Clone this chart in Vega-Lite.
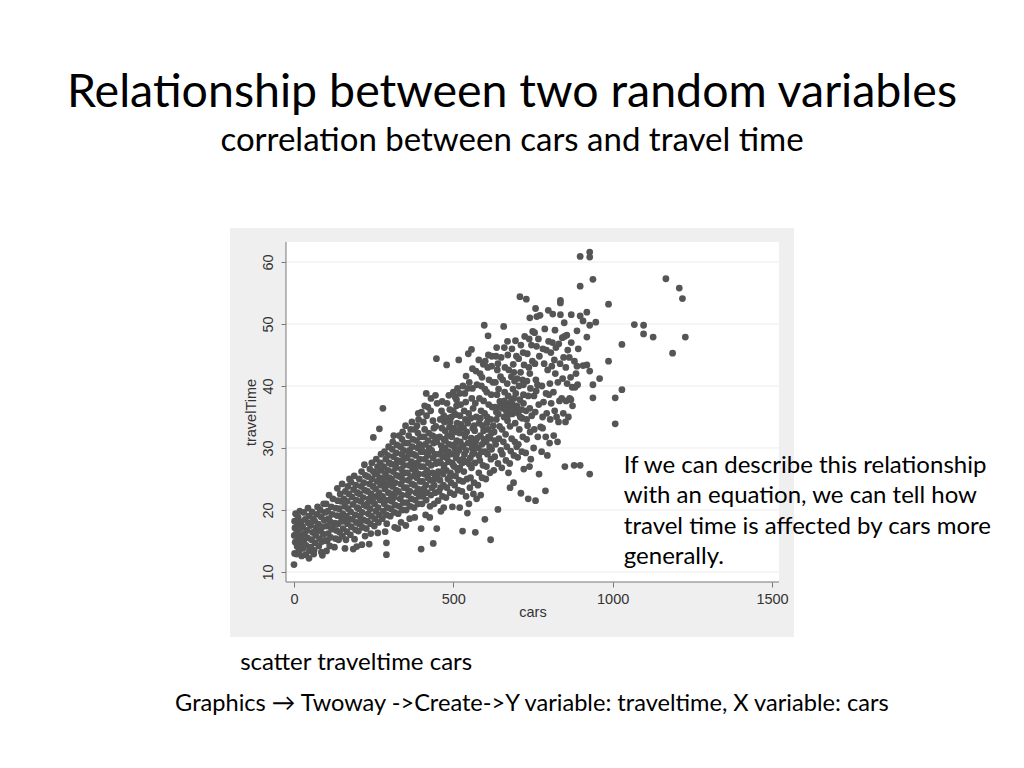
{
  "$schema": "https://vega.github.io/schema/vega-lite/v6.json",
  "width": 564,
  "height": 409,
  "autosize": {"type": "none"},
  "padding": {"left": 230, "top": 228, "right": 230, "bottom": 131},
  "background": "white",
  "title": {
    "text": "Relationship between two random variables",
    "subtitle": "correlation between cars and travel time",
    "anchor": "middle",
    "frame": "group",
    "offset": 70,
    "font": "Lato",
    "fontSize": 46.5,
    "fontWeight": "normal",
    "color": "black",
    "subtitleFont": "Lato",
    "subtitleFontSize": 33,
    "subtitleColor": "black",
    "subtitlePadding": 9
  },
  "layer": [
    {
      "data": {"values": [{}]},
      "mark": {"type": "rect", "color": "white"},
      "encoding": {
        "x": {"datum": -25.1, "type": "quantitative", "title": "cars", "scale": {"domain": [-200.8, 1569], "nice": false, "zero": false}, "axis": {"values": [0, 500, 1000, 1500], "format": "d"}},
        "x2": {"datum": 1521.9},
        "y": {"datum": 63.23, "type": "quantitative", "title": "travelTime", "scale": {"domain": [-0.484, 65.484], "nice": false, "zero": false}, "axis": {"values": [10, 20, 30, 40, 50, 60], "format": "d"}},
        "y2": {"datum": 8.387}
      }
    },
    {
      "data": {"values": [{"grid": 10}, {"grid": 20}, {"grid": 30}, {"grid": 40}, {"grid": 50}, {"grid": 60}]},
      "mark": {"type": "rule", "color": "#ececec", "strokeWidth": 1},
      "encoding": {
        "x": {"datum": -25.1, "type": "quantitative", "title": "cars", "scale": {"domain": [-200.8, 1569], "nice": false, "zero": false}, "axis": {"values": [0, 500, 1000, 1500], "format": "d"}},
        "x2": {"datum": 1521.9},
        "y": {"field": "grid", "type": "quantitative", "title": "travelTime", "scale": {"domain": [-0.484, 65.484], "nice": false, "zero": false}, "axis": {"values": [10, 20, 30, 40, 50, 60], "format": "d"}}
      }
    },
    {
      "data": {"values": [{}]},
      "mark": {"type": "rule", "color": "#777777", "strokeWidth": 1},
      "encoding": {
        "x": {"datum": -25.1, "type": "quantitative", "title": "cars", "scale": {"domain": [-200.8, 1569], "nice": false, "zero": false}, "axis": {"values": [0, 500, 1000, 1500], "format": "d"}},
        "x2": {"datum": 1521.9},
        "y": {"datum": 8.387, "type": "quantitative", "title": "travelTime", "scale": {"domain": [-0.484, 65.484], "nice": false, "zero": false}, "axis": {"values": [10, 20, 30, 40, 50, 60], "format": "d"}}
      }
    },
    {
      "data": {"values": [{}]},
      "mark": {"type": "rule", "color": "#777777", "strokeWidth": 1},
      "encoding": {
        "x": {"datum": -25.1, "type": "quantitative", "title": "cars", "scale": {"domain": [-200.8, 1569], "nice": false, "zero": false}, "axis": {"values": [0, 500, 1000, 1500], "format": "d"}},
        "y": {"datum": 63.23, "type": "quantitative", "title": "travelTime", "scale": {"domain": [-0.484, 65.484], "nice": false, "zero": false}, "axis": {"values": [10, 20, 30, 40, 50, 60], "format": "d"}},
        "y2": {"datum": 8.387}
      }
    },
    {
      "data": {"values": [
        {"cars":0,"travelTime":11.2},
        {"cars":2,"travelTime":13.0},{"cars":4,"travelTime":14.8},{"cars":1,"travelTime":15.9},{"cars":3,"travelTime":17.1},{"cars":2,"travelTime":18.2},{"cars":5,"travelTime":19.4},{"cars":8,"travelTime":12.9},{"cars":10,"travelTime":14.1},{"cars":12,"travelTime":15.3},{"cars":9,"travelTime":16.4},{"cars":11,"travelTime":17.6},{"cars":13,"travelTime":18.8},{"cars":18,"travelTime":19.8},{"cars":16,"travelTime":13.4},{"cars":20,"travelTime":14.6},{"cars":22,"travelTime":15.8},{"cars":19,"travelTime":17.0},{"cars":23,"travelTime":18.1},{"cars":15,"travelTime":16.1},{"cars":24,"travelTime":12.6},
        {"cars":28,"travelTime":13.8},{"cars":30,"travelTime":15.0},{"cars":33,"travelTime":16.2},{"cars":27,"travelTime":17.3},{"cars":35,"travelTime":18.5},{"cars":31,"travelTime":19.6},{"cars":38,"travelTime":14.3},{"cars":42,"travelTime":15.5},{"cars":40,"travelTime":16.7},{"cars":45,"travelTime":17.9},{"cars":47,"travelTime":19.0},{"cars":37,"travelTime":12.8},{"cars":48,"travelTime":13.4},{"cars":44,"travelTime":20.3},{"cars":47,"travelTime":12.2},
        {"cars":53,"travelTime":14.0},{"cars":55,"travelTime":15.2},{"cars":58,"travelTime":16.4},{"cars":52,"travelTime":17.5},{"cars":60,"travelTime":18.6},{"cars":57,"travelTime":19.7},{"cars":63,"travelTime":13.5},{"cars":66,"travelTime":14.7},{"cars":68,"travelTime":15.9},{"cars":70,"travelTime":17.1},{"cars":65,"travelTime":18.2},{"cars":72,"travelTime":19.3},{"cars":74,"travelTime":20.5},{"cars":62,"travelTime":12.9},{"cars":69,"travelTime":16.5},
        {"cars":78,"travelTime":14.2},{"cars":80,"travelTime":15.4},{"cars":83,"travelTime":16.6},{"cars":77,"travelTime":17.7},{"cars":85,"travelTime":18.9},{"cars":82,"travelTime":20.0},{"cars":88,"travelTime":14.9},{"cars":92,"travelTime":16.1},{"cars":90,"travelTime":17.3},{"cars":95,"travelTime":18.4},{"cars":97,"travelTime":19.6},{"cars":93,"travelTime":21.0},{"cars":86,"travelTime":13.2},{"cars":98,"travelTime":15.1},{"cars":89,"travelTime":12.7},
        {"cars":102,"travelTime":13.4},{"cars":104,"travelTime":15.0},{"cars":107,"travelTime":16.2},{"cars":103,"travelTime":17.4},{"cars":109,"travelTime":18.6},{"cars":106,"travelTime":19.8},{"cars":101,"travelTime":21.0},{"cars":112,"travelTime":14.2},{"cars":115,"travelTime":15.6},{"cars":118,"travelTime":16.9},{"cars":114,"travelTime":18.1},{"cars":120,"travelTime":19.3},{"cars":117,"travelTime":20.5},{"cars":122,"travelTime":21.8},{"cars":124,"travelTime":17.6},{"cars":110,"travelTime":22.4},
        {"cars":127,"travelTime":14.0},{"cars":130,"travelTime":15.4},{"cars":133,"travelTime":16.7},{"cars":128,"travelTime":17.9},{"cars":135,"travelTime":19.1},{"cars":131,"travelTime":20.3},{"cars":137,"travelTime":21.5},{"cars":140,"travelTime":15.2},{"cars":143,"travelTime":16.4},{"cars":139,"travelTime":17.8},{"cars":146,"travelTime":19.0},{"cars":142,"travelTime":20.2},{"cars":148,"travelTime":21.4},{"cars":145,"travelTime":22.6},{"cars":136,"travelTime":23.5},{"cars":149,"travelTime":18.2},
        {"cars":152,"travelTime":15.8},{"cars":154,"travelTime":17.0},{"cars":157,"travelTime":18.2},{"cars":153,"travelTime":19.4},{"cars":159,"travelTime":20.6},{"cars":156,"travelTime":21.8},{"cars":161,"travelTime":23.0},{"cars":151,"travelTime":24.2},{"cars":163,"travelTime":15.2},{"cars":166,"travelTime":16.5},{"cars":168,"travelTime":17.8},{"cars":164,"travelTime":19.0},{"cars":170,"travelTime":20.2},{"cars":167,"travelTime":21.4},{"cars":172,"travelTime":22.6},{"cars":169,"travelTime":23.8},{"cars":174,"travelTime":25.0},{"cars":160,"travelTime":13.8},{"cars":171,"travelTime":18.6},
        {"cars":177,"travelTime":16.0},{"cars":180,"travelTime":17.3},{"cars":183,"travelTime":18.5},{"cars":178,"travelTime":19.7},{"cars":185,"travelTime":20.9},{"cars":182,"travelTime":22.1},{"cars":187,"travelTime":23.3},{"cars":179,"travelTime":24.5},{"cars":189,"travelTime":25.5},{"cars":190,"travelTime":15.3},{"cars":193,"travelTime":16.8},{"cars":196,"travelTime":18.0},{"cars":192,"travelTime":19.2},{"cars":198,"travelTime":20.4},{"cars":195,"travelTime":21.6},{"cars":199,"travelTime":22.8},{"cars":194,"travelTime":24.0},{"cars":186,"travelTime":13.7},{"cars":197,"travelTime":14.1},
        {"cars":202,"travelTime":16.6},{"cars":204,"travelTime":17.8},{"cars":207,"travelTime":19.0},{"cars":203,"travelTime":20.2},{"cars":209,"travelTime":21.4},{"cars":206,"travelTime":22.6},{"cars":211,"travelTime":23.8},{"cars":205,"travelTime":25.0},{"cars":212,"travelTime":26.2},{"cars":215,"travelTime":17.2},{"cars":218,"travelTime":18.4},{"cars":214,"travelTime":19.6},{"cars":220,"travelTime":20.8},{"cars":217,"travelTime":22.0},{"cars":222,"travelTime":23.2},{"cars":219,"travelTime":24.4},{"cars":224,"travelTime":25.6},{"cars":221,"travelTime":27.3},{"cars":213,"travelTime":14.4},{"cars":223,"travelTime":15.8},
        {"cars":227,"travelTime":17.0},{"cars":230,"travelTime":18.2},{"cars":233,"travelTime":19.4},{"cars":228,"travelTime":20.6},{"cars":235,"travelTime":21.8},{"cars":231,"travelTime":23.0},{"cars":237,"travelTime":24.2},{"cars":232,"travelTime":25.4},{"cars":238,"travelTime":26.6},{"cars":240,"travelTime":17.8},{"cars":243,"travelTime":19.0},{"cars":239,"travelTime":20.2},{"cars":246,"travelTime":21.4},{"cars":242,"travelTime":22.6},{"cars":248,"travelTime":23.8},{"cars":245,"travelTime":25.0},{"cars":249,"travelTime":26.2},{"cars":244,"travelTime":27.6},{"cars":236,"travelTime":14.5},{"cars":241,"travelTime":16.2},
        {"cars":252,"travelTime":17.4},{"cars":254,"travelTime":18.6},{"cars":257,"travelTime":19.8},{"cars":253,"travelTime":21.0},{"cars":259,"travelTime":22.2},{"cars":256,"travelTime":23.4},{"cars":261,"travelTime":24.6},{"cars":255,"travelTime":25.8},{"cars":262,"travelTime":27.0},{"cars":258,"travelTime":28.2},{"cars":265,"travelTime":18.0},{"cars":268,"travelTime":19.2},{"cars":264,"travelTime":20.4},{"cars":270,"travelTime":21.6},{"cars":267,"travelTime":22.8},{"cars":272,"travelTime":24.0},{"cars":269,"travelTime":25.2},{"cars":274,"travelTime":26.4},{"cars":271,"travelTime":27.6},{"cars":273,"travelTime":29.0},{"cars":268,"travelTime":33.1},{"cars":279,"travelTime":36.4},{"cars":249,"travelTime":31.7},{"cars":263,"travelTime":16.3},
        {"cars":277,"travelTime":18.6},{"cars":280,"travelTime":19.8},{"cars":283,"travelTime":21.0},{"cars":278,"travelTime":22.2},{"cars":285,"travelTime":23.4},{"cars":281,"travelTime":24.6},{"cars":287,"travelTime":25.8},{"cars":282,"travelTime":27.0},{"cars":288,"travelTime":28.2},{"cars":284,"travelTime":29.4},{"cars":290,"travelTime":19.2},{"cars":293,"travelTime":20.4},{"cars":289,"travelTime":21.6},{"cars":296,"travelTime":22.8},{"cars":292,"travelTime":24.0},{"cars":298,"travelTime":25.2},{"cars":295,"travelTime":26.4},{"cars":299,"travelTime":27.6},{"cars":294,"travelTime":28.8},{"cars":297,"travelTime":30.2},{"cars":290,"travelTime":12.8},{"cars":290,"travelTime":14.7},{"cars":286,"travelTime":16.5},{"cars":291,"travelTime":17.8},
        {"cars":302,"travelTime":19.0},{"cars":304,"travelTime":20.2},{"cars":307,"travelTime":21.4},{"cars":303,"travelTime":22.6},{"cars":309,"travelTime":23.8},{"cars":306,"travelTime":25.0},{"cars":311,"travelTime":26.2},{"cars":305,"travelTime":27.4},{"cars":312,"travelTime":28.6},{"cars":308,"travelTime":29.8},{"cars":310,"travelTime":31.0},{"cars":315,"travelTime":19.6},{"cars":318,"travelTime":20.8},{"cars":314,"travelTime":22.0},{"cars":320,"travelTime":23.2},{"cars":317,"travelTime":24.4},{"cars":322,"travelTime":25.6},{"cars":319,"travelTime":26.8},{"cars":324,"travelTime":28.0},{"cars":321,"travelTime":29.2},{"cars":323,"travelTime":30.5},{"cars":316,"travelTime":17.2},{"cars":313,"travelTime":32.0},
        {"cars":327,"travelTime":19.4},{"cars":330,"travelTime":20.6},{"cars":333,"travelTime":21.8},{"cars":328,"travelTime":23.0},{"cars":335,"travelTime":24.2},{"cars":331,"travelTime":25.4},{"cars":337,"travelTime":26.6},{"cars":332,"travelTime":27.8},{"cars":338,"travelTime":29.0},{"cars":334,"travelTime":30.2},{"cars":339,"travelTime":31.4},{"cars":340,"travelTime":20.0},{"cars":343,"travelTime":21.2},{"cars":339,"travelTime":22.4},{"cars":346,"travelTime":23.6},{"cars":342,"travelTime":24.8},{"cars":348,"travelTime":26.0},{"cars":345,"travelTime":27.2},{"cars":349,"travelTime":28.4},{"cars":344,"travelTime":29.6},{"cars":347,"travelTime":30.8},{"cars":341,"travelTime":32.6},{"cars":336,"travelTime":18.0},{"cars":326,"travelTime":17.0},
        {"cars":352,"travelTime":20.0},{"cars":354,"travelTime":21.2},{"cars":357,"travelTime":22.4},{"cars":353,"travelTime":23.6},{"cars":359,"travelTime":24.8},{"cars":356,"travelTime":26.0},{"cars":361,"travelTime":27.2},{"cars":355,"travelTime":28.4},{"cars":362,"travelTime":29.6},{"cars":358,"travelTime":30.8},{"cars":360,"travelTime":32.0},{"cars":365,"travelTime":20.6},{"cars":368,"travelTime":21.8},{"cars":364,"travelTime":23.0},{"cars":370,"travelTime":24.2},{"cars":367,"travelTime":25.4},{"cars":372,"travelTime":26.6},{"cars":369,"travelTime":27.8},{"cars":374,"travelTime":29.0},{"cars":371,"travelTime":30.2},{"cars":373,"travelTime":31.4},{"cars":366,"travelTime":33.0},{"cars":363,"travelTime":18.6},{"cars":351,"travelTime":17.5},
        {"cars":377,"travelTime":20.4},{"cars":380,"travelTime":21.6},{"cars":383,"travelTime":22.8},{"cars":378,"travelTime":24.0},{"cars":385,"travelTime":25.2},{"cars":381,"travelTime":26.4},{"cars":387,"travelTime":27.6},{"cars":382,"travelTime":28.8},{"cars":388,"travelTime":30.0},{"cars":384,"travelTime":31.2},{"cars":389,"travelTime":32.4},{"cars":386,"travelTime":33.6},{"cars":390,"travelTime":21.0},{"cars":393,"travelTime":22.2},{"cars":389,"travelTime":23.4},{"cars":396,"travelTime":24.6},{"cars":392,"travelTime":25.8},{"cars":398,"travelTime":27.0},{"cars":395,"travelTime":28.2},{"cars":399,"travelTime":29.4},{"cars":394,"travelTime":30.6},{"cars":397,"travelTime":31.8},{"cars":391,"travelTime":34.6},{"cars":399,"travelTime":17.0},{"cars":399,"travelTime":13.7},{"cars":379,"travelTime":18.8},
        {"cars":402,"travelTime":21.0},{"cars":404,"travelTime":22.2},{"cars":407,"travelTime":23.4},{"cars":403,"travelTime":24.6},{"cars":409,"travelTime":25.8},{"cars":406,"travelTime":27.0},{"cars":411,"travelTime":28.2},{"cars":405,"travelTime":29.4},{"cars":412,"travelTime":30.6},{"cars":408,"travelTime":31.8},{"cars":410,"travelTime":33.0},{"cars":406,"travelTime":34.2},{"cars":415,"travelTime":21.6},{"cars":418,"travelTime":22.8},{"cars":414,"travelTime":24.0},{"cars":420,"travelTime":25.2},{"cars":417,"travelTime":26.4},{"cars":422,"travelTime":27.6},{"cars":419,"travelTime":28.8},{"cars":424,"travelTime":30.0},{"cars":421,"travelTime":31.2},{"cars":423,"travelTime":32.4},{"cars":416,"travelTime":35.2},{"cars":413,"travelTime":19.2},{"cars":420,"travelTime":36.6},
        {"cars":427,"travelTime":20.6},{"cars":430,"travelTime":22.4},{"cars":433,"travelTime":23.6},{"cars":428,"travelTime":24.8},{"cars":435,"travelTime":26.0},{"cars":431,"travelTime":27.2},{"cars":437,"travelTime":28.4},{"cars":432,"travelTime":29.6},{"cars":438,"travelTime":30.8},{"cars":434,"travelTime":32.0},{"cars":439,"travelTime":33.2},{"cars":436,"travelTime":34.4},{"cars":429,"travelTime":36.0},{"cars":440,"travelTime":21.0},{"cars":443,"travelTime":22.8},{"cars":441,"travelTime":25.0},{"cars":446,"travelTime":27.5},{"cars":442,"travelTime":29.0},{"cars":448,"travelTime":31.0},{"cars":445,"travelTime":33.5},{"cars":449,"travelTime":37.2},{"cars":444,"travelTime":38.5},{"cars":437,"travelTime":14.6},{"cars":448,"travelTime":17.0},{"cars":426,"travelTime":18.8},{"cars":447,"travelTime":44.4},
        {"cars":452,"travelTime":21.5},{"cars":455,"travelTime":23.0},{"cars":458,"travelTime":24.8},{"cars":453,"travelTime":26.2},{"cars":460,"travelTime":27.6},{"cars":456,"travelTime":29.0},{"cars":462,"travelTime":30.4},{"cars":457,"travelTime":31.8},{"cars":464,"travelTime":33.2},{"cars":459,"travelTime":34.6},{"cars":463,"travelTime":36.0},{"cars":466,"travelTime":22.2},{"cars":469,"travelTime":24.0},{"cars":468,"travelTime":25.8},{"cars":471,"travelTime":27.2},{"cars":467,"travelTime":28.6},{"cars":473,"travelTime":30.0},{"cars":470,"travelTime":31.4},{"cars":474,"travelTime":32.8},{"cars":472,"travelTime":34.2},{"cars":465,"travelTime":37.5},{"cars":461,"travelTime":19.8},{"cars":470,"travelTime":20.4},
        {"cars":477,"travelTime":22.0},{"cars":480,"travelTime":23.6},{"cars":483,"travelTime":25.0},{"cars":478,"travelTime":26.4},{"cars":485,"travelTime":27.8},{"cars":481,"travelTime":29.2},{"cars":487,"travelTime":30.6},{"cars":482,"travelTime":32.0},{"cars":488,"travelTime":33.4},{"cars":484,"travelTime":34.8},{"cars":489,"travelTime":36.2},{"cars":490,"travelTime":22.8},{"cars":493,"travelTime":24.4},{"cars":491,"travelTime":26.0},{"cars":496,"travelTime":27.6},{"cars":492,"travelTime":29.0},{"cars":498,"travelTime":30.4},{"cars":495,"travelTime":31.8},{"cars":499,"travelTime":33.2},{"cars":494,"travelTime":35.0},{"cars":479,"travelTime":43.4},{"cars":486,"travelTime":38.5},{"cars":497,"travelTime":20.5},{"cars":500,"travelTime":39.0},
        {"cars":502,"travelTime":22.5},{"cars":504,"travelTime":24.0},{"cars":507,"travelTime":25.5},{"cars":503,"travelTime":27.0},{"cars":509,"travelTime":28.4},{"cars":506,"travelTime":29.8},{"cars":511,"travelTime":31.2},{"cars":505,"travelTime":32.6},{"cars":512,"travelTime":34.0},{"cars":508,"travelTime":35.4},{"cars":510,"travelTime":36.8},{"cars":506,"travelTime":38.2},{"cars":515,"travelTime":23.2},{"cars":518,"travelTime":24.8},{"cars":514,"travelTime":26.4},{"cars":520,"travelTime":28.0},{"cars":517,"travelTime":29.6},{"cars":522,"travelTime":31.0},{"cars":519,"travelTime":32.4},{"cars":524,"travelTime":33.8},{"cars":521,"travelTime":35.2},{"cars":523,"travelTime":37.0},{"cars":517,"travelTime":44.2},{"cars":513,"travelTime":39.6},{"cars":520,"travelTime":20.4},
        {"cars":527,"travelTime":23.0},{"cars":530,"travelTime":24.6},{"cars":533,"travelTime":26.2},{"cars":528,"travelTime":27.6},{"cars":535,"travelTime":29.0},{"cars":531,"travelTime":30.4},{"cars":537,"travelTime":31.8},{"cars":532,"travelTime":33.2},{"cars":538,"travelTime":34.6},{"cars":534,"travelTime":36.0},{"cars":539,"travelTime":37.4},{"cars":536,"travelTime":38.8},{"cars":540,"travelTime":22.2},{"cars":543,"travelTime":25.0},{"cars":541,"travelTime":27.8},{"cars":546,"travelTime":30.8},{"cars":542,"travelTime":32.6},{"cars":548,"travelTime":35.6},{"cars":545,"travelTime":39.6},{"cars":529,"travelTime":16.6},{"cars":544,"travelTime":19.5},{"cars":547,"travelTime":45.2},{"cars":549,"travelTime":21.0},
        {"cars":552,"travelTime":23.6},{"cars":554,"travelTime":25.2},{"cars":557,"travelTime":26.8},{"cars":553,"travelTime":28.4},{"cars":559,"travelTime":30.0},{"cars":556,"travelTime":31.6},{"cars":561,"travelTime":33.2},{"cars":555,"travelTime":34.8},{"cars":562,"travelTime":36.4},{"cars":558,"travelTime":38.0},{"cars":560,"travelTime":39.6},{"cars":565,"travelTime":24.4},{"cars":568,"travelTime":27.6},{"cars":564,"travelTime":29.2},{"cars":570,"travelTime":31.0},{"cars":567,"travelTime":32.8},{"cars":572,"travelTime":35.0},{"cars":569,"travelTime":37.2},{"cars":574,"travelTime":40.2},{"cars":571,"travelTime":42.4},{"cars":557,"travelTime":45.9},{"cars":569,"travelTime":16.4},{"cars":563,"travelTime":22.6},{"cars":573,"travelTime":21.8},
        {"cars":577,"travelTime":24.0},{"cars":580,"travelTime":26.0},{"cars":583,"travelTime":28.0},{"cars":578,"travelTime":30.0},{"cars":585,"travelTime":32.0},{"cars":581,"travelTime":34.0},{"cars":587,"travelTime":36.0},{"cars":582,"travelTime":38.0},{"cars":588,"travelTime":40.0},{"cars":584,"travelTime":42.0},{"cars":590,"travelTime":25.2},{"cars":593,"travelTime":27.2},{"cars":589,"travelTime":29.4},{"cars":596,"travelTime":31.4},{"cars":592,"travelTime":33.6},{"cars":598,"travelTime":35.6},{"cars":595,"travelTime":37.6},{"cars":599,"travelTime":39.5},{"cars":594,"travelTime":43.5},{"cars":597,"travelTime":49.8},{"cars":599,"travelTime":18.5},{"cars":586,"travelTime":22.4},
        {"cars":602,"travelTime":25.0},{"cars":604,"travelTime":27.0},{"cars":607,"travelTime":29.0},{"cars":603,"travelTime":31.0},{"cars":609,"travelTime":33.0},{"cars":606,"travelTime":35.0},{"cars":611,"travelTime":37.0},{"cars":605,"travelTime":39.0},{"cars":612,"travelTime":41.0},{"cars":608,"travelTime":43.0},{"cars":609,"travelTime":48.1},{"cars":617,"travelTime":15.2},{"cars":615,"travelTime":26.0},{"cars":618,"travelTime":28.2},{"cars":614,"travelTime":30.2},{"cars":620,"travelTime":32.4},{"cars":617,"travelTime":34.6},{"cars":622,"travelTime":36.6},{"cars":619,"travelTime":38.6},{"cars":624,"travelTime":40.6},{"cars":621,"travelTime":44.8},{"cars":610,"travelTime":45.0},
        {"cars":627,"travelTime":26.4},{"cars":630,"travelTime":28.6},{"cars":633,"travelTime":30.6},{"cars":628,"travelTime":32.6},{"cars":635,"travelTime":34.6},{"cars":631,"travelTime":36.6},{"cars":637,"travelTime":38.6},{"cars":632,"travelTime":40.6},{"cars":638,"travelTime":42.6},{"cars":634,"travelTime":44.8},{"cars":640,"travelTime":20.1},{"cars":640,"travelTime":27.5},{"cars":643,"travelTime":31.5},{"cars":641,"travelTime":35.5},{"cars":646,"travelTime":37.5},{"cars":642,"travelTime":39.5},{"cars":648,"travelTime":41.5},{"cars":645,"travelTime":33.5},{"cars":649,"travelTime":29.6},{"cars":636,"travelTime":46.2},
        {"cars":652,"travelTime":26.8},{"cars":654,"travelTime":29.0},{"cars":657,"travelTime":31.0},{"cars":653,"travelTime":33.0},{"cars":659,"travelTime":35.0},{"cars":656,"travelTime":37.0},{"cars":661,"travelTime":39.0},{"cars":655,"travelTime":41.0},{"cars":662,"travelTime":43.0},{"cars":658,"travelTime":49.6},{"cars":660,"travelTime":46.2},{"cars":665,"travelTime":28.0},{"cars":668,"travelTime":30.2},{"cars":664,"travelTime":32.2},{"cars":670,"travelTime":34.4},{"cars":667,"travelTime":36.4},{"cars":672,"travelTime":38.4},{"cars":669,"travelTime":40.4},{"cars":674,"travelTime":42.6},{"cars":671,"travelTime":45.0},{"cars":666,"travelTime":36.0},{"cars":673,"travelTime":26.0},
        {"cars":677,"travelTime":27.5},{"cars":680,"travelTime":29.5},{"cars":683,"travelTime":31.5},{"cars":678,"travelTime":33.5},{"cars":685,"travelTime":35.5},{"cars":681,"travelTime":37.5},{"cars":687,"travelTime":39.5},{"cars":682,"travelTime":41.5},{"cars":688,"travelTime":43.5},{"cars":684,"travelTime":46.0},{"cars":678,"travelTime":23.6},{"cars":689,"travelTime":24.4},{"cars":690,"travelTime":28.8},{"cars":693,"travelTime":31.0},{"cars":691,"travelTime":36.8},{"cars":696,"travelTime":38.8},{"cars":692,"travelTime":40.8},{"cars":698,"travelTime":44.8},{"cars":695,"travelTime":47.3},{"cars":699,"travelTime":30.2},{"cars":694,"travelTime":34.0},
        {"cars":702,"travelTime":28.5},{"cars":704,"travelTime":30.6},{"cars":707,"travelTime":33.0},{"cars":703,"travelTime":35.6},{"cars":709,"travelTime":37.8},{"cars":706,"travelTime":40.0},{"cars":711,"travelTime":42.2},{"cars":705,"travelTime":44.4},{"cars":712,"travelTime":46.6},{"cars":709,"travelTime":54.4},{"cars":712,"travelTime":22.7},{"cars":715,"travelTime":29.4},{"cars":718,"travelTime":31.8},{"cars":714,"travelTime":36.2},{"cars":720,"travelTime":38.6},{"cars":717,"travelTime":41.0},{"cars":722,"travelTime":43.4},{"cars":719,"travelTime":45.4},{"cars":724,"travelTime":48.0},{"cars":721,"travelTime":26.6},{"cars":716,"travelTime":34.8},
        {"cars":729,"travelTime":54.0},{"cars":735,"travelTime":21.8},{"cars":727,"travelTime":29.2},{"cars":730,"travelTime":31.4},{"cars":733,"travelTime":33.6},{"cars":728,"travelTime":36.0},{"cars":735,"travelTime":38.4},{"cars":731,"travelTime":40.8},{"cars":737,"travelTime":43.0},{"cars":732,"travelTime":45.2},{"cars":738,"travelTime":47.6},{"cars":740,"travelTime":51.0},{"cars":743,"travelTime":28.2},{"cars":741,"travelTime":32.6},{"cars":746,"travelTime":35.2},{"cars":742,"travelTime":39.6},{"cars":748,"travelTime":44.0},{"cars":745,"travelTime":46.6},{"cars":749,"travelTime":48.8},{"cars":739,"travelTime":27.0},
        {"cars":752,"travelTime":30.0},{"cars":754,"travelTime":33.0},{"cars":757,"travelTime":35.8},{"cars":753,"travelTime":38.4},{"cars":759,"travelTime":41.0},{"cars":756,"travelTime":43.6},{"cars":761,"travelTime":46.4},{"cars":755,"travelTime":48.6},{"cars":762,"travelTime":51.2},{"cars":758,"travelTime":52.5},{"cars":758,"travelTime":21.5},{"cars":765,"travelTime":31.8},{"cars":768,"travelTime":37.0},{"cars":764,"travelTime":40.2},{"cars":770,"travelTime":44.8},{"cars":767,"travelTime":47.6},{"cars":772,"travelTime":51.4},{"cars":769,"travelTime":25.8},{"cars":774,"travelTime":33.4},
        {"cars":777,"travelTime":29.4},{"cars":780,"travelTime":33.2},{"cars":783,"travelTime":37.4},{"cars":778,"travelTime":40.0},{"cars":785,"travelTime":43.6},{"cars":781,"travelTime":46.0},{"cars":787,"travelTime":49.2},{"cars":789,"travelTime":23.1},{"cars":790,"travelTime":31.8},{"cars":793,"travelTime":35.6},{"cars":791,"travelTime":38.8},{"cars":796,"travelTime":42.6},{"cars":792,"travelTime":45.8},{"cars":798,"travelTime":52.2},{"cars":795,"travelTime":28.8},{"cars":799,"travelTime":47.2},
        {"cars":802,"travelTime":30.8},{"cars":804,"travelTime":34.6},{"cars":807,"travelTime":37.2},{"cars":803,"travelTime":40.4},{"cars":809,"travelTime":43.2},{"cars":806,"travelTime":45.4},{"cars":811,"travelTime":47.0},{"cars":812,"travelTime":51.6},{"cars":815,"travelTime":32.0},{"cars":818,"travelTime":36.0},{"cars":814,"travelTime":39.0},{"cars":820,"travelTime":42.0},{"cars":817,"travelTime":44.2},{"cars":822,"travelTime":46.2},{"cars":819,"travelTime":49.0},{"cars":824,"travelTime":35.0},
        {"cars":827,"travelTime":31.0},{"cars":830,"travelTime":34.2},{"cars":833,"travelTime":37.6},{"cars":828,"travelTime":40.6},{"cars":835,"travelTime":43.6},{"cars":831,"travelTime":46.8},{"cars":836,"travelTime":51.5},{"cars":836,"travelTime":53.8},{"cars":836,"travelTime":53.4},{"cars":840,"travelTime":38.0},{"cars":843,"travelTime":41.2},{"cars":846,"travelTime":44.6},{"cars":842,"travelTime":47.8},{"cars":848,"travelTime":50.2},{"cars":845,"travelTime":35.6},{"cars":850,"travelTime":27.0},{"cars":849,"travelTime":48.0},
        {"cars":852,"travelTime":34.2},{"cars":854,"travelTime":37.6},{"cars":857,"travelTime":40.4},{"cars":853,"travelTime":43.0},{"cars":859,"travelTime":45.8},{"cars":856,"travelTime":48.2},{"cars":861,"travelTime":35.0},{"cars":865,"travelTime":38.0},{"cars":868,"travelTime":41.4},{"cars":864,"travelTime":44.6},{"cars":870,"travelTime":51.5},{"cars":870,"travelTime":47.0},{"cars":873,"travelTime":39.8},{"cars":869,"travelTime":37.8},{"cars":874,"travelTime":36.8},
        {"cars":879,"travelTime":27.2},{"cars":898,"travelTime":27.2},{"cars":888,"travelTime":48.9},{"cars":888,"travelTime":43.2},{"cars":880,"travelTime":44.0},{"cars":885,"travelTime":42.0},{"cars":890,"travelTime":40.2},{"cars":898,"travelTime":60.9},{"cars":898,"travelTime":56.1},{"cars":898,"travelTime":51.3},{"cars":892,"travelTime":46.0},{"cars":882,"travelTime":39.8},
        {"cars":907,"travelTime":50.5},{"cars":907,"travelTime":43.3},{"cars":919,"travelTime":51.9},{"cars":919,"travelTime":47.9},{"cars":919,"travelTime":43.4},{"cars":928,"travelTime":61.6},{"cars":928,"travelTime":60.8},{"cars":928,"travelTime":49.8},{"cars":928,"travelTime":42.4},{"cars":928,"travelTime":25.8},{"cars":938,"travelTime":57.2},{"cars":938,"travelTime":40.2},{"cars":938,"travelTime":38.1},{"cars":947,"travelTime":50.3},
        {"cars":959,"travelTime":41.2},{"cars":987,"travelTime":53.2},{"cars":987,"travelTime":44.0},{"cars":1008,"travelTime":38.1},{"cars":1008,"travelTime":33.9},{"cars":1029,"travelTime":39.4},{"cars":1029,"travelTime":46.7},{"cars":1068,"travelTime":49.9},{"cars":1097,"travelTime":49.8},{"cars":1097,"travelTime":48.4},{"cars":1127,"travelTime":47.9},{"cars":1167,"travelTime":57.3},{"cars":1188,"travelTime":45.3},{"cars":1209,"travelTime":55.8},{"cars":1219,"travelTime":54.1},{"cars":1228,"travelTime":47.9},
        {"cars":455,"travelTime":27.8},{"cars":465,"travelTime":29.6},{"cars":475,"travelTime":31.2},{"cars":485,"travelTime":29.4},{"cars":495,"travelTime":32.6},{"cars":505,"travelTime":30.6},{"cars":515,"travelTime":33.0},{"cars":525,"travelTime":30.2},{"cars":535,"travelTime":32.2},{"cars":545,"travelTime":34.0},{"cars":555,"travelTime":30.8},{"cars":565,"travelTime":33.6},{"cars":575,"travelTime":31.6},{"cars":585,"travelTime":34.8},{"cars":595,"travelTime":32.8},{"cars":605,"travelTime":34.0},{"cars":615,"travelTime":31.6},{"cars":625,"travelTime":33.6},{"cars":635,"travelTime":35.8},{"cars":645,"travelTime":36.6},{"cars":655,"travelTime":36.4},{"cars":665,"travelTime":37.2},{"cars":675,"travelTime":36.6},{"cars":685,"travelTime":37.0},{"cars":695,"travelTime":36.2},{"cars":660,"travelTime":37.6},{"cars":670,"travelTime":35.2},{"cars":680,"travelTime":36.2},{"cars":690,"travelTime":38.0},{"cars":700,"travelTime":36.8},{"cars":710,"travelTime":35.0},{"cars":720,"travelTime":37.2},{"cars":730,"travelTime":34.6},{"cars":740,"travelTime":36.4},
        {"cars":450,"travelTime":25.6},{"cars":460,"travelTime":23.6},{"cars":470,"travelTime":26.6},{"cars":480,"travelTime":28.4},{"cars":490,"travelTime":25.4},{"cars":500,"travelTime":27.2},{"cars":510,"travelTime":29.0},{"cars":520,"travelTime":26.8},{"cars":530,"travelTime":28.2},{"cars":540,"travelTime":29.6},{"cars":550,"travelTime":27.4},{"cars":560,"travelTime":29.0},{"cars":570,"travelTime":30.2},{"cars":580,"travelTime":28.8},{"cars":590,"travelTime":30.6},{"cars":600,"travelTime":29.4},{"cars":610,"travelTime":31.8},{"cars":620,"travelTime":29.8},{"cars":630,"travelTime":31.2},
        {"cars":470,"travelTime":35.2},{"cars":480,"travelTime":37.2},{"cars":490,"travelTime":34.2},{"cars":500,"travelTime":36.0},{"cars":510,"travelTime":37.8},{"cars":520,"travelTime":38.8},{"cars":530,"travelTime":40.0},{"cars":540,"travelTime":41.6},{"cars":550,"travelTime":40.6},{"cars":560,"travelTime":42.8},{"cars":580,"travelTime":44.2},{"cars":590,"travelTime":41.4},{"cars":600,"travelTime":44.0},{"cars":620,"travelTime":43.2},{"cars":640,"travelTime":43.6},{"cars":650,"travelTime":44.6},{"cars":670,"travelTime":47.2},{"cars":690,"travelTime":42.2},{"cars":700,"travelTime":41.2},{"cars":720,"travelTime":40.2},{"cars":740,"travelTime":42.0},{"cars":760,"travelTime":39.2},{"cars":780,"travelTime":35.0},{"cars":800,"travelTime":38.6},
        {"cars":210,"travelTime":18.2},{"cars":230,"travelTime":21.0},{"cars":250,"travelTime":22.0},{"cars":260,"travelTime":26.0},{"cars":280,"travelTime":25.0},{"cars":300,"travelTime":24.4},{"cars":320,"travelTime":27.4},{"cars":340,"travelTime":25.8},{"cars":360,"travelTime":29.0},{"cars":380,"travelTime":27.2},{"cars":400,"travelTime":30.0},{"cars":420,"travelTime":29.2},{"cars":440,"travelTime":31.8},{"cars":300,"travelTime":21.6},{"cars":320,"travelTime":22.8},{"cars":340,"travelTime":28.0},{"cars":360,"travelTime":23.0},{"cars":380,"travelTime":25.8},{"cars":400,"travelTime":22.8},{"cars":420,"travelTime":26.0},{"cars":440,"travelTime":24.0},{"cars":330,"travelTime":32.0},{"cars":350,"travelTime":33.6},{"cars":370,"travelTime":34.2},{"cars":390,"travelTime":35.6},{"cars":410,"travelTime":36.8},{"cars":430,"travelTime":38.0},{"cars":415,"travelTime":38.8},{"cars":400,"travelTime":35.8},{"cars":380,"travelTime":33.0}
      ]},
      "mark": {"type": "circle", "size": 46, "color": "#555555", "opacity": 1},
      "encoding": {
        "x": {"field": "cars", "type": "quantitative", "title": "cars", "scale": {"domain": [-200.8, 1569], "nice": false, "zero": false}, "axis": {"values": [0, 500, 1000, 1500], "format": "d"}},
        "y": {"field": "travelTime", "type": "quantitative", "title": "travelTime", "scale": {"domain": [-0.484, 65.484], "nice": false, "zero": false}, "axis": {"values": [10, 20, 30, 40, 50, 60], "format": "d"}}
      }
    },
    {
      "data": {"values": [{}]},
      "mark": {"type": "text", "font": "Lato", "fontSize": 24, "align": "left", "baseline": "alphabetic", "lineHeight": 30.5, "color": "black"},
      "encoding": {
        "x": {"datum": 1035, "type": "quantitative", "title": "cars", "scale": {"domain": [-200.8, 1569], "nice": false, "zero": false}, "axis": {"values": [0, 500, 1000, 1500], "format": "d"}},
        "y": {"datum": 26.0, "type": "quantitative", "title": "travelTime", "scale": {"domain": [-0.484, 65.484], "nice": false, "zero": false}, "axis": {"values": [10, 20, 30, 40, 50, 60], "format": "d"}},
        "text": {"value": ["If we can describe this relationship", "with an equation, we can  tell how", "travel time is affected by cars more", "generally."]}
      }
    },
    {
      "data": {"values": [{}]},
      "mark": {"type": "text", "font": "Lato", "fontSize": 24, "align": "left", "baseline": "alphabetic", "color": "black"},
      "encoding": {
        "x": {"datum": -169, "type": "quantitative", "title": "cars", "scale": {"domain": [-200.8, 1569], "nice": false, "zero": false}, "axis": {"values": [0, 500, 1000, 1500], "format": "d"}},
        "y": {"datum": -5.8, "type": "quantitative", "title": "travelTime", "scale": {"domain": [-0.484, 65.484], "nice": false, "zero": false}, "axis": {"values": [10, 20, 30, 40, 50, 60], "format": "d"}},
        "text": {"value": "scatter traveltime cars"}
      }
    },
    {
      "data": {"values": [{}]},
      "mark": {"type": "text", "font": "Lato", "fontSize": 23.6, "align": "left", "baseline": "alphabetic", "color": "black"},
      "encoding": {
        "x": {"datum": -373, "type": "quantitative", "title": "cars", "scale": {"domain": [-200.8, 1569], "nice": false, "zero": false}, "axis": {"values": [0, 500, 1000, 1500], "format": "d"}},
        "y": {"datum": -12.4, "type": "quantitative", "title": "travelTime", "scale": {"domain": [-0.484, 65.484], "nice": false, "zero": false}, "axis": {"values": [10, 20, 30, 40, 50, 60], "format": "d"}},
        "text": {"value": "Graphics → Twoway ->Create->Y variable: traveltime, X variable: cars"}
      }
    }
  ],
  "config": {
    "view": {"stroke": null, "fill": "#efefef"},
    "axis": {
      "grid": false,
      "domain": false,
      "tickColor": "#777777",
      "tickSize": 5,
      "labelFont": "Liberation Sans",
      "labelFontSize": 14.5,
      "labelColor": "#333333",
      "titleFont": "Liberation Sans",
      "titleFontSize": 14.5,
      "titleFontWeight": "normal",
      "titleColor": "#333333"
    },
    "axisX": {"offset": -55, "labelPadding": 5, "titlePadding": 0, "titleX": 302.5},
    "axisY": {"offset": -56, "labelAngle": -90, "labelAlign": "center", "labelBaseline": "bottom", "labelPadding": 6, "titlePadding": 2, "titleY": 184}
  }
}
